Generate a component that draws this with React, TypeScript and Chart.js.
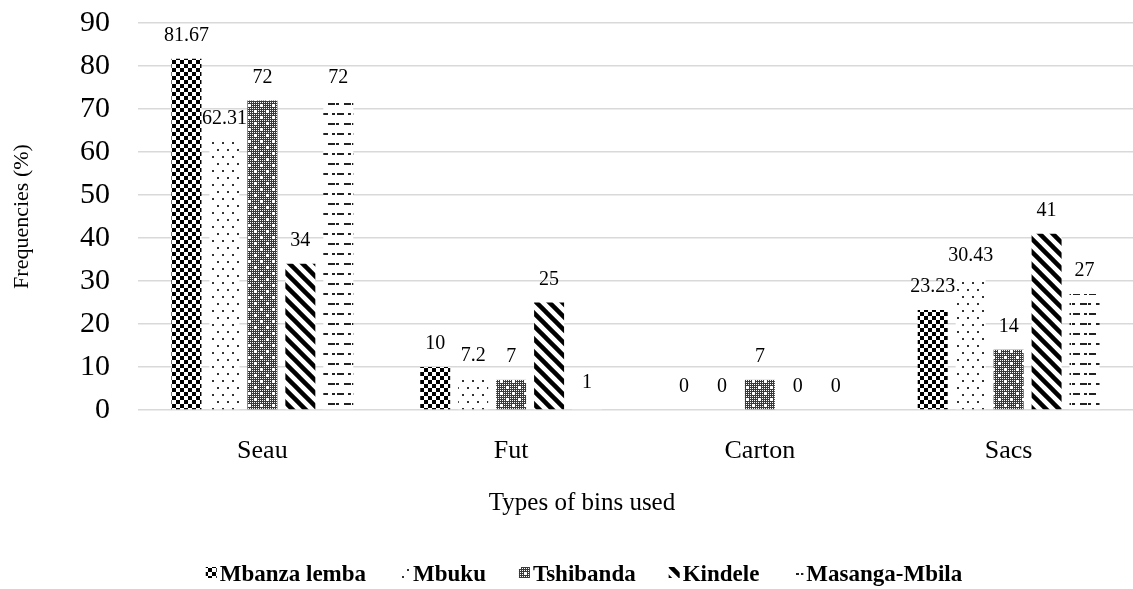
import React, { useEffect, useRef } from "react";
import { Chart, registerables } from "chart.js";

Chart.register(...registerables);

const categories = ["Seau", "Fut", "Carton", "Sacs"];
const seriesNames = ["Mbanza lemba", "Mbuku", "Tshibanda", "Kindele", "Masanga-Mbila"];
const mbanzaLemba = [81.67, 10, 0, 23.23];
const mbuku = [62.31, 7.2, 0, 30.43];
const tshibanda = [72, 7, 7, 14];
const kindele = [34, 25, 0, 41];
const masangaMbila = [72, 1, 0, 27];
const yTicks = [0, 10, 20, 30, 40, 50, 60, 70, 80, 90];
const yAxisTitle = "Frequencies (%)";
const xAxisTitle = "Types of bins used";

const FONT = "'Liberation Serif', 'Times New Roman', serif";
const TEXT_CENTER_X = 584;

function tile(w: number, h: number, draw: (g: CanvasRenderingContext2D) => void) {
  const c = document.createElement("canvas");
  c.width = w;
  c.height = h;
  const g = c.getContext("2d")!;
  g.fillStyle = "#ffffff";
  g.fillRect(0, 0, w, h);
  draw(g);
  return c;
}

function makePatterns(ctx: CanvasRenderingContext2D) {
  const checker = tile(8, 8, (g) => {
    g.fillStyle = "#000";
    g.fillRect(0, 0, 4, 4);
    g.fillRect(4, 4, 4, 4);
  });
  const dots = tile(10, 14, (g) => {
    g.fillStyle = "#333";
    g.fillRect(2, 2, 2, 2);
    g.fillRect(7, 9, 2, 2);
  });
  const dense = tile(12, 12, (g) => {
    g.fillStyle = "#3a3a3a";
    g.fillRect(0, 0, 12, 12);
    g.fillStyle = "#fff";
    for (let x = 0; x < 12; x += 2) for (let y = 0; y < 12; y += 2) g.fillRect(x, y, 1, 1);
    g.fillRect(2, 3, 3, 1);
    g.fillRect(3, 2, 1, 3);
    g.fillRect(8, 9, 3, 1);
    g.fillRect(9, 8, 1, 3);
  });
  const s = 13;
  const stripes = tile(s, s, (g) => {
    g.strokeStyle = "#000";
    g.lineWidth = 4.5;
    for (const o of [-s, 0, s]) {
      g.beginPath();
      g.moveTo(o - 2, -2);
      g.lineTo(o + s + 2, s + 2);
      g.stroke();
    }
  });
  const dashes = tile(16, 20, (g) => {
    g.fillStyle = "#222";
    g.fillRect(0, 3, 3, 2);
    g.fillRect(8, 3, 7, 2);
    g.fillRect(1, 13, 7, 2);
    g.fillRect(12, 13, 3, 2);
  });
  return [checker, dots, dense, stripes, dashes].map((c) => ctx.createPattern(c, "repeat")!);
}

const labelsPlugin = {
  id: "customLabels",
  afterDatasetsDraw(chart: any) {
    const ctx: CanvasRenderingContext2D = chart.ctx;
    ctx.save();
    ctx.fillStyle = "#000";
    ctx.font = `20px ${FONT}`;
    ctx.textAlign = "center";
    ctx.textBaseline = "middle";
    chart.data.datasets.forEach((ds: any, i: number) => {
      const meta = chart.getDatasetMeta(i);
      meta.data.forEach((el: any, j: number) => {
        ctx.fillText(String(ds.data[j]), el.x, el.y - 23);
      });
    });
    ctx.restore();
  },
  afterDraw(chart: any) {
    const ctx: CanvasRenderingContext2D = chart.ctx;
    ctx.save();
    ctx.fillStyle = "#000";
    ctx.textBaseline = "middle";
    ctx.textAlign = "center";
    ctx.font = `25px ${FONT}`;
    ctx.fillText(xAxisTitle, TEXT_CENTER_X - 2, 503);

    // legend
    ctx.font = `bold 23px ${FONT}`;
    ctx.textAlign = "left";
    const icon = 11;
    const gapIcon = 3;
    const gapItem = 33;
    const widths = chart.data.datasets.map((ds: any) => icon + gapIcon + ctx.measureText(ds.label).width);
    const total = widths.reduce((a: number, b: number) => a + b, 0) + gapItem * (widths.length - 1);
    let x = TEXT_CENTER_X - total / 2;
    const y = 575;
    chart.data.datasets.forEach((ds: any, i: number) => {
      ctx.fillStyle = ds.backgroundColor;
      ctx.fillRect(x, y - 8, icon, icon);
      ctx.fillStyle = "#000";
      ctx.fillText(ds.label, x + icon + gapIcon, y);
      x += widths[i] + gapItem;
    });
    ctx.restore();
  },
};

function zeroPad(s: any) {
  s.paddingTop = 0;
  s.paddingBottom = 0;
  s.paddingLeft = 0;
  s.paddingRight = 0;
}

export default function App() {
  const ref = useRef<HTMLCanvasElement | null>(null);
  useEffect(() => {
    document.body.style.margin = "0";
    const canvas = ref.current!;
    const ctx = canvas.getContext("2d")!;
    const patterns = makePatterns(ctx);
    const values = [mbanzaLemba, mbuku, tshibanda, kindele, masangaMbila];
    const chart = new Chart(canvas, {
      type: "bar",
      data: {
        labels: categories,
        datasets: values.map((v, i) => ({
          label: seriesNames[i],
          data: v,
          backgroundColor: patterns[i] as any,
          borderWidth: 0,
          barPercentage: 0.79,
          categoryPercentage: 0.763,
        })),
      },
      options: {
        responsive: false,
        animation: false,
        layout: { padding: { top: 23, right: 0, bottom: 0, left: 0 } },
        plugins: {
          legend: { display: false },
          tooltip: { enabled: false },
          title: { display: false },
        },
        scales: {
          x: {
            grid: { display: false, drawTicks: false },
            border: { display: false },
            ticks: { color: "#000", font: { family: FONT, size: 26 }, padding: 26 },
            afterFit: (s: any) => {
              s.height = 179;
              zeroPad(s);
            },
          },
          y: {
            min: 0,
            max: 90,
            afterBuildTicks: (s: any) => {
              s.ticks = yTicks.map((v) => ({ value: v }));
            },
            ticks: { color: "#000", font: { family: FONT, size: 30 }, padding: 28 },
            grid: { color: "#d9d9d9", lineWidth: 1.5, drawTicks: false },
            border: { display: false },
            title: {
              display: true,
              text: yAxisTitle,
              color: "#000",
              font: { family: FONT, size: 22 },
              padding: { top: 9, bottom: 0 },
            },
            afterFit: (s: any) => {
              s.width = 138;
              zeroPad(s);
            },
          },
        },
      },
      plugins: [labelsPlugin],
    });
    return () => chart.destroy();
  }, []);
  return (
    <div style={{ width: 1133, height: 589 }}>
      <canvas ref={ref} width={1133} height={589} style={{ display: "block" }} />
    </div>
  );
}
